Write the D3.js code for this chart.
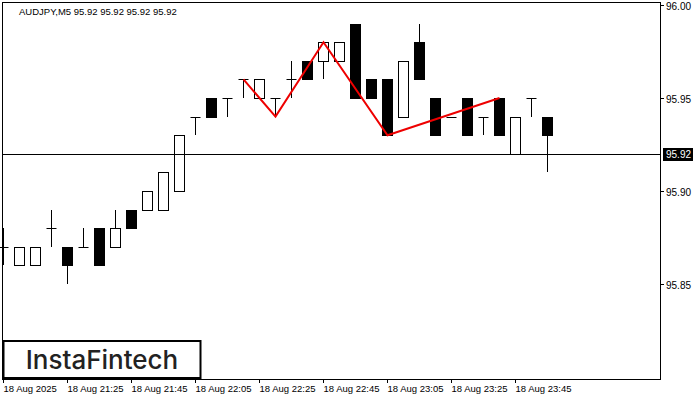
<!DOCTYPE html>
<html><head><meta charset="utf-8">
<script src="https://cdn.jsdelivr.net/npm/d3@7"></script>
<style>body{margin:0;background:#fff}</style></head>
<body><svg id="c" width="700" height="400"></svg>
<script>
const opens  = [95.87,95.86,95.86,95.88,95.87,95.87,95.88,95.87,95.89,95.89,95.89,95.90,95.94,95.95,95.95,95.96,95.95,95.95,95.96,95.97,95.97,95.97,95.99,95.96,95.96,95.94,95.98,95.95,95.94,95.95,95.94,95.95,95.92,95.95,95.94];
const highs  = [95.88,95.87,95.87,95.89,95.87,95.88,95.88,95.89,95.89,95.90,95.91,95.93,95.94,95.95,95.95,95.96,95.96,95.95,95.97,95.97,95.98,95.98,95.99,95.96,95.96,95.97,95.99,95.95,95.94,95.95,95.94,95.95,95.94,95.95,95.94];
const lows   = [95.86,95.86,95.86,95.87,95.85,95.87,95.86,95.87,95.88,95.89,95.89,95.90,95.93,95.94,95.94,95.95,95.95,95.94,95.95,95.96,95.96,95.97,95.95,95.95,95.93,95.94,95.96,95.93,95.94,95.93,95.93,95.93,95.92,95.94,95.91];
const closes = [95.87,95.87,95.87,95.88,95.86,95.87,95.86,95.88,95.88,95.90,95.91,95.93,95.94,95.94,95.95,95.96,95.96,95.95,95.96,95.96,95.98,95.98,95.95,95.95,95.93,95.97,95.96,95.93,95.94,95.93,95.94,95.93,95.94,95.95,95.93];
const timeLabels = ["18 Aug 2025","18 Aug 21:25","18 Aug 21:45","18 Aug 22:05","18 Aug 22:25","18 Aug 22:45","18 Aug 23:05","18 Aug 23:25","18 Aug 23:45"];
const priceTicks = [96.00,95.95,95.90,95.85];
const patternIdx = [15,17,20,24,31];
const patternPrice = [95.96,95.94,95.98,95.93,95.95];
const lastPrice = 95.92;

const svg = d3.select("#c");
const L=2,R=660,T=2,B=379;
const x = d3.scaleLinear().domain([0,1]).range([3,19]);
const y = d3.scaleLinear().domain([95.85,96.00]).range([284,5]);
const font="'Liberation Sans', Arial, sans-serif";

const g = svg.append("g");
opens.forEach((o,i)=>{
  const cx=Math.round(x(i))+0.5, c=closes[i];
  g.append("line").attr("x1",cx).attr("x2",cx).attr("y1",Math.round(y(highs[i]))).attr("y2",Math.round(y(lows[i]))).attr("stroke","#000");
  const top=Math.round(y(Math.max(o,c))), bot=Math.round(y(Math.min(o,c)));
  if(bot-top<1){
    g.append("line").attr("x1",cx-5).attr("x2",cx+5).attr("y1",top+0.5).attr("y2",top+0.5).attr("stroke","#000");
  } else {
    g.append("rect").attr("x",cx-5).attr("y",top+0.5).attr("width",10).attr("height",bot-top)
     .attr("fill",c>=o?"#fff":"#000").attr("stroke","#000");
  }
});
svg.append("line").attr("x1",L).attr("x2",R).attr("y1",Math.round(y(lastPrice))+0.5).attr("y2",Math.round(y(lastPrice))+0.5).attr("stroke","#000");
svg.append("path").attr("d",d3.line().x(d=>x(d[0])+0.5).y(d=>y(d[1]))(patternIdx.map((d,i)=>[d,patternPrice[i]])))
  .attr("fill","none").attr("stroke","#e00").attr("stroke-width",2);
svg.append("rect").attr("x",L+0.5).attr("y",T+0.5).attr("width",R-L).attr("height",B-T).attr("fill","none").attr("stroke","#000");
priceTicks.forEach(p=>{
  const yy=Math.round(y(p))+0.5;
  svg.append("line").attr("x1",R).attr("x2",R+4).attr("y1",yy).attr("y2",yy).attr("stroke","#000");
  svg.append("text").attr("x",666).attr("y",yy+4).attr("font-family",font).attr("font-size",10).text(p.toFixed(2));
});
const ly=Math.round(y(lastPrice));
svg.append("rect").attr("x",663).attr("y",ly-6).attr("width",30).attr("height",13).attr("fill","#000");
svg.append("text").attr("x",666).attr("y",ly+4).attr("font-family",font).attr("font-size",10).attr("fill","#fff").text(lastPrice.toFixed(2));
timeLabels.forEach((t,i)=>{
  const xx=Math.round(x(i*4))+0.5;
  svg.append("line").attr("x1",xx).attr("x2",xx).attr("y1",B).attr("y2",B+4).attr("stroke","#000");
  svg.append("text").attr("x",xx).attr("y",392).attr("font-family",font).attr("font-size",9.5).text(t);
});
svg.append("text").attr("x",19).attr("y",15).attr("font-family",font).attr("font-size",9.5).text("AUDJPY,M5  95.92 95.92 95.92 95.92");
svg.append("rect").attr("x",3.5).attr("y",341).attr("width",197).attr("height",37).attr("fill","#fff").attr("stroke","#000").attr("stroke-width",2);
svg.append("text").attr("x",102).attr("y",369).attr("text-anchor","middle").attr("font-family","Inter, 'Open Sans', sans-serif").attr("font-size",26).attr("font-weight",500).attr("fill","#222").text("InstaFintech");
</script></body></html>
